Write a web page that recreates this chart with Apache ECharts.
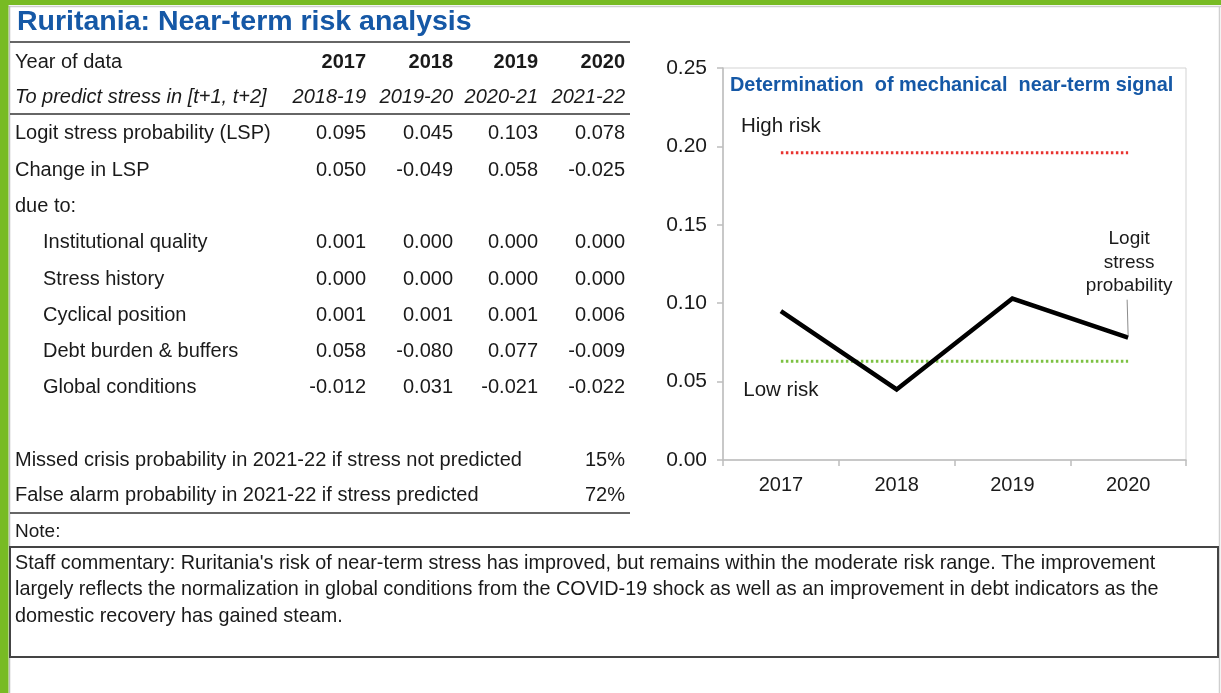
<!DOCTYPE html>
<html>
<head>
<meta charset="utf-8">
<script src="https://cdn.jsdelivr.net/npm/echarts@6/dist/echarts.min.js"></script>
<style>
  html, body { margin: 0; padding: 0; background: #fff; }
  #main { width: 1221px; height: 693px; }
</style>
</head>
<body>
<div id="main"></div>
<script>
// ---- data ----
const years = ['2017', '2018', '2019', '2020']
const predictPeriods = ['2018-19', '2019-20', '2020-21', '2021-22']
const lspValues = [0.095, 0.045, 0.103, 0.078]
const lspChange = [0.050, -0.049, 0.058, -0.025]
const institutionalQuality = [0.001, 0.000, 0.000, 0.000]
const stressHistory = [0.000, 0.000, 0.000, 0.000]
const cyclicalPosition = [0.001, 0.001, 0.001, 0.006]
const debtBurden = [0.058, -0.080, 0.077, -0.009]
const globalConditions = [-0.012, 0.031, -0.021, -0.022]
const missedCrisisPct = 15
const falseAlarmPct = 72
const highRiskLine = [0.196, 0.196, 0.196, 0.196]
const lowRiskLine = [0.063, 0.063, 0.063, 0.063]
const yTicks = [0, 0.05, 0.10, 0.15, 0.20, 0.25]

const commentary = [
  "Staff commentary: Ruritania's risk of near-term stress has improved, but remains within the moderate risk range. The improvement",
  'largely reflects the normalization in global conditions from the COVID-19 shock as well as an improvement in debt indicators as the',
  'domestic recovery has gained steam.'
]

// ---- styles ----
const FONT = '"Liberation Sans", Arial, sans-serif'
const BLUE = '#1558a6'
const TXT = '#1a1a1a'
const colRight = [366, 453, 538, 625]

const chart = echarts.init(document.getElementById('main'))

const option = {
  animation: false,
  backgroundColor: '#fff',
  grid: {
    left: 723, top: 68, right: 35, bottom: 233,
    show: true, borderColor: '#d3d3d3', borderWidth: 1
  },
  xAxis: {
    type: 'category',
    data: years,
    boundaryGap: true,
    axisLine: { lineStyle: { color: '#bdbdbd', width: 1.5 } },
    axisTick: { show: true, length: 6, lineStyle: { color: '#bdbdbd', width: 1.5 } },
    axisLabel: { color: TXT, fontSize: 20, fontFamily: FONT, margin: 15 }
  },
  yAxis: {
    type: 'value',
    min: yTicks[0],
    max: yTicks[yTicks.length - 1],
    interval: 0.05,
    axisLine: { show: true, lineStyle: { color: '#bdbdbd', width: 1.5 } },
    axisTick: { show: true, length: 6, lineStyle: { color: '#bdbdbd', width: 1.5 } },
    splitLine: { show: false },
    axisLabel: {
      color: TXT, fontSize: 21, fontFamily: FONT, margin: 16,
      formatter: (v) => v.toFixed(2)
    }
  },
  series: [
    {
      name: 'High risk',
      type: 'line',
      data: highRiskLine,
      symbol: 'none',
      lineStyle: { color: '#e8332f', width: 3, type: [2.5, 2.5] }
    },
    {
      name: 'Low risk',
      type: 'line',
      data: lowRiskLine,
      symbol: 'none',
      lineStyle: { color: '#7cc142', width: 3, type: [2.5, 2.5] }
    },
    {
      name: 'Logit stress probability',
      type: 'line',
      data: lspValues,
      symbol: 'none',
      z: 5,
      lineStyle: { color: '#000', width: 4.5, cap: 'butt', join: 'miter' }
    }
  ]
}
chart.setOption(option)

// ---- graphic: frame, table, notes ----
function txt(x, y, text, opts) {
  opts = opts || {}
  return {
    type: 'text', x: x, y: y, z: 10,
    style: {
      text: text,
      fill: opts.fill || TXT,
      font: (opts.italic ? 'italic ' : '') + (opts.weight || 'normal') + ' ' + (opts.size || 20) + 'px ' + FONT,
      textAlign: opts.align || 'left',
      textVerticalAlign: 'middle'
    }
  }
}
function hline(x1, x2, y, color, w) {
  return { type: 'line', z: 10, shape: { x1: x1, y1: y, x2: x2, y2: y }, style: { stroke: color, lineWidth: w } }
}

const g = []
// green frame
g.push({ type: 'rect', z: 20, shape: { x: 0, y: 0, width: 1221, height: 5 }, style: { fill: '#78bb24' } })
g.push({ type: 'rect', z: 20, shape: { x: 0, y: 0, width: 8.5, height: 693 }, style: { fill: '#78bb24' } })
g.push(hline(8, 1221, 6.5, '#cfcfcf', 1.5))
g.push({ type: 'line', z: 10, shape: { x1: 9.5, y1: 6, x2: 9.5, y2: 693 }, style: { stroke: '#bdbdbd', lineWidth: 1.5 } })
g.push({ type: 'line', z: 10, shape: { x1: 1219.5, y1: 6, x2: 1219.5, y2: 693 }, style: { stroke: '#cfcfcf', lineWidth: 1.5 } })

// title
g.push(txt(17, 22, 'Ruritania: Near-term risk analysis', { size: 28.5, weight: 'bold', fill: BLUE }))
g.push(hline(10, 630, 42, '#333', 1.5))

// header rows
g.push(txt(15, 62, 'Year of data'))
g.push(txt(15, 97, 'To predict stress in [t+1, t+2]', { italic: true }))
years.forEach((y, i) => {
  g.push(txt(colRight[i], 62, y, { align: 'right', weight: 'bold' }))
  g.push(txt(colRight[i], 97, predictPeriods[i], { align: 'right', italic: true }))
})
g.push(hline(10, 630, 114, '#333', 1.5))

// body rows
const rows = [
  { label: 'Logit stress probability (LSP)', values: lspValues, y: 133, indent: 15 },
  { label: 'Change in LSP', values: lspChange, y: 170, indent: 15 },
  { label: 'due to:', values: null, y: 206, indent: 15 },
  { label: 'Institutional quality', values: institutionalQuality, y: 242, indent: 43 },
  { label: 'Stress history', values: stressHistory, y: 279, indent: 43 },
  { label: 'Cyclical position', values: cyclicalPosition, y: 315, indent: 43 },
  { label: 'Debt burden & buffers', values: debtBurden, y: 351, indent: 43 },
  { label: 'Global conditions', values: globalConditions, y: 387, indent: 43 }
]
rows.forEach((r) => {
  g.push(txt(r.indent, r.y, r.label))
  if (r.values) {
    r.values.forEach((v, i) => {
      g.push(txt(colRight[i], r.y, v.toFixed(3), { align: 'right' }))
    })
  }
})

g.push(txt(15, 460, 'Missed crisis probability in 2021-22 if stress not predicted'))
g.push(txt(colRight[3], 460, missedCrisisPct + '%', { align: 'right' }))
g.push(txt(15, 495, 'False alarm probability in 2021-22 if stress predicted'))
g.push(txt(colRight[3], 495, falseAlarmPct + '%', { align: 'right' }))
g.push(hline(10, 630, 513, '#333', 1.5))
g.push(txt(15, 532, 'Note:', { size: 19 }))

// commentary box
g.push({ type: 'rect', z: 10, shape: { x: 10, y: 547, width: 1208, height: 110 }, style: { fill: 'none', stroke: '#444', lineWidth: 2 } })
commentary.forEach((line, i) => {
  g.push(txt(15, 563.5 + i * 26.5, line, { size: 19.8 }))
})

// chart title + annotations (placed from the axes)
g.push(txt(730, 86, 'Determination  of mechanical  near-term signal', { size: 19.9, weight: 'bold', fill: BLUE }))

const pHigh = chart.convertToPixel({ xAxisIndex: 0, yAxisIndex: 0 }, [0, highRiskLine[0]])
const pLow = chart.convertToPixel({ xAxisIndex: 0, yAxisIndex: 0 }, [0, lowRiskLine[0]])
const last = lspValues.length - 1
const pEnd = chart.convertToPixel({ xAxisIndex: 0, yAxisIndex: 0 }, [last, lspValues[last]])

g.push(txt(pHigh[0], pHigh[1] - 26, 'High risk', { size: 20.5, align: 'center' }))
g.push(txt(pLow[0], pLow[1] + 29, 'Low risk', { size: 20.5, align: 'center' }))
g.push({
  type: 'text', x: pEnd[0] + 1, y: pEnd[1] - 75, z: 10,
  style: {
    text: 'Logit\nstress\nprobability',
    fill: TXT, font: '19px ' + FONT, lineHeight: 23.5,
    textAlign: 'center', textVerticalAlign: 'middle'
  }
})
g.push({
  type: 'line', z: 10,
  shape: { x1: pEnd[0] - 1, y1: pEnd[1] - 38, x2: pEnd[0], y2: pEnd[1] - 2 },
  style: { stroke: '#8c8c8c', lineWidth: 1 }
})

chart.setOption({ graphic: { elements: g } })
</script>
</body>
</html>
